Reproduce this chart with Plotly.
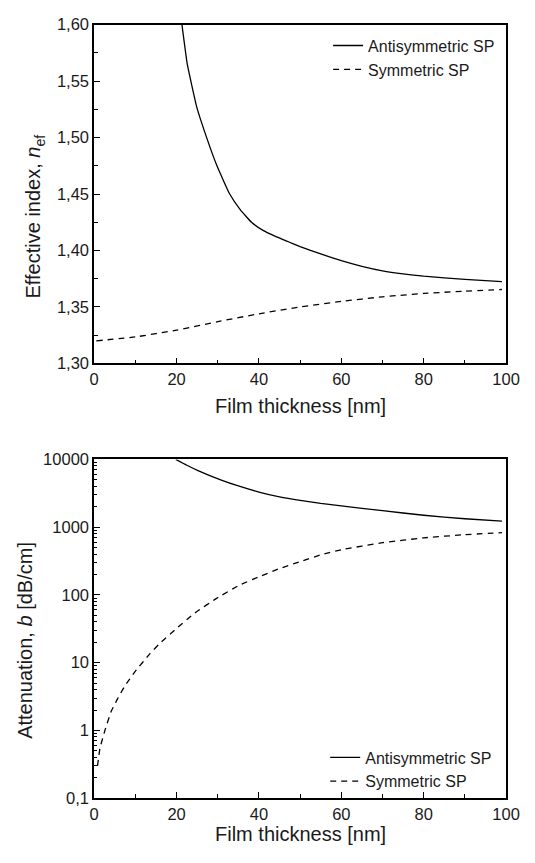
import plotly.graph_objects as go

W, H = 535, 863

# ---------------- data ----------------
# Top panel: effective index vs film thickness
anti_n_x = [21.3, 22.6, 24.9, 27.3, 29.8, 32.9, 35.5, 38.2, 41, 44, 47, 50, 55, 60, 65, 70, 75, 80, 90, 99]
anti_n_y = [1.600, 1.565, 1.527, 1.500, 1.475, 1.450, 1.436, 1.425, 1.4178, 1.4125, 1.408, 1.4035,
            1.397, 1.391, 1.386, 1.382, 1.3793, 1.3773, 1.3745, 1.3725]
sym_n_x = [0.5, 10, 20, 30, 40, 50, 60, 70, 80, 90, 99]
sym_n_y = [1.320, 1.3235, 1.3295, 1.337, 1.344, 1.350, 1.355, 1.359, 1.362, 1.364, 1.3655]

# Bottom panel: attenuation vs film thickness
anti_b_x = [19.8, 22.5, 25.2, 30.7, 35, 40, 45, 50, 55, 60, 70, 80, 90, 99]
anti_b_y = [10000, 8200, 6850, 5000, 4060, 3300, 2800, 2480, 2240, 2060, 1750, 1500, 1330, 1230]
sym_b_x = [0.8, 1.4, 2.6, 4.1, 5.5, 7.3, 10, 13.5, 16.2, 20, 24.4, 29.7, 35.2, 40, 44.6, 50, 55,
           60, 70, 80, 90, 99]
sym_b_y = [0.30, 0.55, 1.0, 1.9, 2.8, 4.4, 7.5, 13.5, 20, 32, 54, 89, 139, 185, 240, 310, 390,
           465, 590, 695, 775, 830]

x_tickvals = [0, 20, 40, 60, 80, 100]
x_ticktext = ["0", "20", "40", "60", "80", "100"]
n_tickvals = [1.30, 1.35, 1.40, 1.45, 1.50, 1.55, 1.60]
n_ticktext = ["1,30", "1,35", "1,40", "1,45", "1,50", "1,55", "1,60"]
b_tickvals = [0.1, 1, 10, 100, 1000, 10000]
b_ticktext = ["0,1", "1", "10", "100", "1000", "10000"]

series_names = ["Antisymmetric SP", "Symmetric SP"]

# ---------------- figure ----------------
FONT = "Liberation Sans, Arial, Helvetica, sans-serif"
TXT = "#1a1a1a"

def px_x(p):
    return p / W

def px_y(p):
    return 1 - p / H

xl, xr = 92.5, 519.5
top_t, top_b = 16, 362
bot_t, bot_b = 460, 806

fig = go.Figure()
solid = dict(color="black", width=1.3)
dashed = dict(color="black", width=1.3, dash="6px,5px")
SM = 0.35

fig.add_trace(go.Scatter(x=anti_n_x, y=anti_n_y, mode="lines", name=series_names[0],
                         line=dict(**solid, shape="spline", smoothing=SM),
                         xaxis="x", yaxis="y", legend="legend"))
fig.add_trace(go.Scatter(x=sym_n_x, y=sym_n_y, mode="lines", name=series_names[1],
                         line=dict(**dashed, shape="spline", smoothing=SM),
                         xaxis="x", yaxis="y", legend="legend"))
fig.add_trace(go.Scatter(x=anti_b_x, y=anti_b_y, mode="lines", name=series_names[0],
                         line=dict(**solid, shape="spline", smoothing=SM),
                         xaxis="x2", yaxis="y2", legend="legend2"))
fig.add_trace(go.Scatter(x=sym_b_x, y=sym_b_y, mode="lines", name=series_names[1],
                         line=dict(**dashed, shape="spline", smoothing=SM),
                         xaxis="x2", yaxis="y2", legend="legend2"))

axis_common = dict(showline=True, linecolor="black", linewidth=1.8, mirror=True,
                   showgrid=False, zeroline=False, ticks="inside", ticklen=6,
                   tickwidth=1.2, tickcolor="black",
                   tickfont=dict(family=FONT, size=16.5, color=TXT))

fig.update_layout(
    width=W, height=H,
    margin=dict(l=0, r=0, t=0, b=0),
    paper_bgcolor="white", plot_bgcolor="white",
    font=dict(family=FONT, color=TXT),
    xaxis=dict(domain=[px_x(xl), px_x(xr)], range=[0, 100], anchor="y",
               tickvals=x_tickvals, ticktext=x_ticktext,
               minor=dict(dtick=10, ticks="inside", ticklen=4, tickcolor="black", tickwidth=1.2),
               **axis_common),
    yaxis=dict(domain=[px_y(top_b), px_y(top_t)], range=[1.30, 1.60], anchor="x",
               tickvals=n_tickvals, ticktext=n_ticktext,
               minor=dict(dtick=0.025, tick0=1.30, ticks="inside", ticklen=4,
                          tickcolor="black", tickwidth=1.2),
               **axis_common),
    xaxis2=dict(domain=[px_x(xl), px_x(xr)], range=[0, 100], anchor="y2",
                tickvals=x_tickvals, ticktext=x_ticktext,
                minor=dict(dtick=10, ticks="inside", ticklen=4, tickcolor="black", tickwidth=1.2),
                **axis_common),
    yaxis2=dict(type="log", domain=[px_y(bot_b), px_y(bot_t)], range=[-1, 4], anchor="x2",
                tickvals=b_tickvals, ticktext=b_ticktext,
                minor=dict(dtick="D1", ticks="inside", ticklen=3,
                           tickcolor="black", tickwidth=1),
                **axis_common),
    legend=dict(x=px_x(335), y=px_y(20), xanchor="left", yanchor="top",
                bgcolor="rgba(0,0,0,0)", borderwidth=0, tracegroupgap=0,
                font=dict(family=FONT, size=16, color=TXT)),
    legend2=dict(x=px_x(332), y=px_y(747), xanchor="left", yanchor="top",
                 bgcolor="rgba(0,0,0,0)", borderwidth=0, tracegroupgap=0,
                 font=dict(family=FONT, size=16, color=TXT)),
    showlegend=True,
)

title_font = dict(family=FONT, size=20, color=TXT)
fig.add_annotation(text="Film thickness [nm]", xref="paper", yref="paper",
                   x=px_x(306), y=px_y(405), xanchor="center", yanchor="middle",
                   showarrow=False, font=title_font)
fig.add_annotation(text="Film thickness [nm]", xref="paper", yref="paper",
                   x=px_x(306), y=px_y(843), xanchor="center", yanchor="middle",
                   showarrow=False, font=title_font)
fig.add_annotation(text="Effective index, <i>n</i><sub>ef</sub>", xref="paper", yref="paper",
                   x=px_x(31), y=px_y(212), xanchor="center", yanchor="middle",
                   textangle=-90, showarrow=False, font=title_font)
fig.add_annotation(text="Attenuation, <i>b</i> [dB/cm]", xref="paper", yref="paper",
                   x=px_x(20), y=px_y(645), xanchor="center", yanchor="middle",
                   textangle=-90, showarrow=False, font=title_font)

fig.write_html("out.html")
